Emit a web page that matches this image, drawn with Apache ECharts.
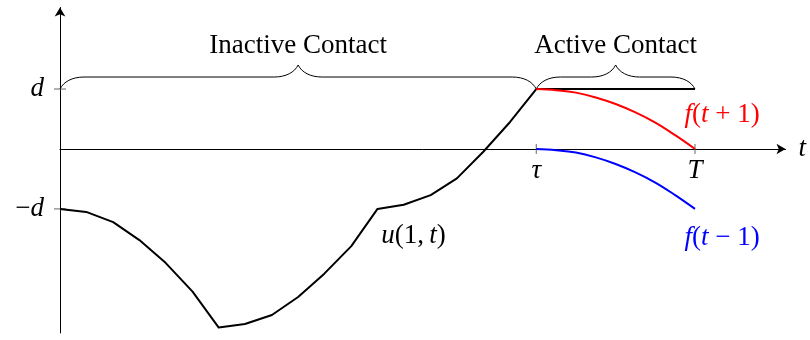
<!DOCTYPE html>
<html><head><meta charset="utf-8">
<script src="https://cdn.jsdelivr.net/npm/echarts@6/dist/echarts.min.js"></script>
<style>html,body{margin:0;padding:0;background:#fff}#c{width:810px;height:340px}</style>
</head><body><div id="c"></div>
<script>
// ---- data (t in units where tau = 6, T = 8; values in units of d) ----
const uTimes = [0, 0.33, 0.67, 1, 1.33, 1.67, 2, 2.33, 2.67, 3, 3.33, 3.67, 4, 4.33, 4.67, 5, 5.33, 5.67, 6];
const uValues = [-1.0, -1.05, -1.22, -1.52, -1.90, -2.38, -2.98, -2.92, -2.77, -2.47, -2.08, -1.62, -1.0, -0.93, -0.77, -0.49, -0.05, 0.45, 1.0];
const fTimes = [6, 6.25, 6.5, 6.75, 7, 7.25, 7.5, 7.75, 8];
const fPlusValues = [1.0, 0.98, 0.94, 0.86, 0.75, 0.61, 0.44, 0.23, 0.0];
const fMinusValues = [0, -0.02, -0.06, -0.14, -0.25, -0.39, -0.56, -0.77, -1.0];
const contactTimes = [6, 8];
const contactValues = [1, 1];
const braceStarts = [0, 6];
const braceEnds = [6, 8];
const braceLevel = 1;
const braceLabels = ['Inactive Contact', 'Active Contact'];
const xTickValues = [6, 8];
const xTickLabels = ['{i|τ}', '{i|T}'];
const yTickValues = [1, -1];
const yTickLabels = ['{i|d}', '{n|−}{i|d}'];
const axisName = 't';
const uLabel = '{i|u}{n|(1,\u2009}{i|t}{n|)}';
const fPlusLabel = '{i|f}{n|(}{i|t}{n| + 1)}';
const fMinusLabel = '{i|f}{n|(}{i|t}{n| − 1)}';

// ---- styling ----
const FONT = 'Liberation Serif';
const FS = 27;
function rich(color) {
  return {
    i: { fontFamily: FONT, fontSize: FS, fontStyle: 'italic', color: color },
    n: { fontFamily: FONT, fontSize: FS, color: color }
  };
}
const pairs = (xs, ys) => xs.map((x, i) => [x, ys[i]]);

const chart = echarts.init(document.getElementById('c'), null, { renderer: 'canvas' });

const option = {
  animation: false,
  backgroundColor: '#fff',
  grid: { left: 60, top: 7.5, width: 725.5, height: 325.5, containLabel: false, outerBoundsMode: 'none' },
  xAxis: {
    type: 'value', min: 0, max: 9.14,
    name: axisName, nameLocation: 'end', nameGap: 13,
    nameTextStyle: { fontFamily: FONT, fontSize: FS, fontStyle: 'italic', color: '#000' },
    axisLine: { show: true, onZero: true, symbol: ['none', 'arrow'], symbolSize: [8, 9],
      lineStyle: { color: '#000', width: 1 } },
    axisTick: { show: false },
    splitLine: { show: false },
    axisLabel: { show: false }
  },
  yAxis: {
    type: 'value', min: -3.07, max: 2.36,
    axisLine: { show: true, onZero: true, symbol: ['none', 'arrow'], symbolSize: [8, 9],
      lineStyle: { color: '#000', width: 1 } },
    axisTick: { show: false },
    splitLine: { show: false },
    axisLabel: {
      show: true, customValues: yTickValues, margin: 16,
      formatter: v => yTickLabels[yTickValues.indexOf(v)] || '',
      rich: rich('#000')
    }
  },
  series: [
    {
      type: 'custom', name: 'ticks-x', silent: true, clip: false, z: 2,
      data: xTickValues.map(v => [v, 0]),
      renderItem: (params, api) => {
        const p = api.coord([api.value(0), api.value(1)]);
        return {
          type: 'group', children: [
            { type: 'line', shape: { x1: p[0], y1: p[1] - 5, x2: p[0], y2: p[1] + 5 },
              style: { stroke: '#666', lineWidth: 1 } },
            { type: 'text', x: p[0], y: p[1] + 22,
              style: { text: xTickLabels[params.dataIndex], rich: rich('#000'),
                align: 'center', verticalAlign: 'middle' } }
          ]
        };
      }
    },
    {
      type: 'custom', name: 'ticks-y', silent: true, clip: false, z: 2,
      data: yTickValues.map(v => [0, v]),
      renderItem: (params, api) => {
        const p = api.coord([api.value(0), api.value(1)]);
        return { type: 'line', shape: { x1: p[0] - 6, y1: p[1], x2: p[0] + 6, y2: p[1] },
          style: { stroke: '#666', lineWidth: 1 } };
      }
    },
    {
      type: 'custom', name: 'braces', silent: true, clip: false, z: 2,
      data: braceStarts.map((s, i) => [s, braceEnds[i], braceLevel]),
      encode: { x: [0, 1], y: 2 },
      renderItem: (params, api) => {
        const a = api.coord([api.value(0), api.value(2)]);
        const b = api.coord([api.value(1), api.value(2)]);
        const A = 24, h = A / 2;
        const x0 = a[0], x1 = b[0], y0 = a[1], m = (x0 + x1) / 2;
        const d = `M${x0},${y0} C${x0 + 0.15 * A},${y0 - 0.3 * A} ${x0 + 0.5 * A},${y0 - h} ${x0 + A},${y0 - h} ` +
          `L${m - A},${y0 - h} C${m - 0.5 * A},${y0 - h} ${m - 0.15 * A},${y0 - 0.7 * A} ${m},${y0 - A} ` +
          `C${m + 0.15 * A},${y0 - 0.7 * A} ${m + 0.5 * A},${y0 - h} ${m + A},${y0 - h} ` +
          `L${x1 - A},${y0 - h} C${x1 - 0.5 * A},${y0 - h} ${x1 - 0.15 * A},${y0 - 0.3 * A} ${x1},${y0}`;
        return {
          type: 'group', children: [
            { type: 'path', shape: { pathData: d }, style: { fill: 'none', stroke: '#000', lineWidth: 1 } },
            { type: 'text', x: m, y: y0 - A - 19,
              style: { text: braceLabels[params.dataIndex],
                font: FS + 'px "' + FONT + '", serif',
                fontFamily: '"' + FONT + '", serif', fontSize: FS,
                fill: '#000', align: 'center', verticalAlign: 'middle' } }
          ]
        };
      }
    },
    {
      type: 'line', name: 'contact', data: pairs(contactTimes, contactValues),
      showSymbol: false, symbol: 'none', z: 3,
      lineStyle: { color: '#000', width: 2 }
    },
    {
      type: 'line', name: 'u(1,t)', data: pairs(uTimes, uValues),
      showSymbol: false, symbol: 'none', z: 4,
      lineStyle: { color: '#000', width: 2, join: 'round' },
      markPoint: {
        symbol: 'circle', symbolSize: 1, itemStyle: { color: 'rgba(0,0,0,0)' }, silent: true,
        data: [{ coord: [uTimes[12], uValues[12]] }],
        label: { show: true, position: 'inside', offset: [36, 27], formatter: uLabel, rich: rich('#000') }
      }
    },
    {
      type: 'line', name: 'f(t+1)', data: pairs(fTimes, fPlusValues),
      showSymbol: false, symbol: 'none', smooth: 0.4, z: 5,
      lineStyle: { color: '#ff0000', width: 2 },
      markPoint: {
        symbol: 'circle', symbolSize: 1, itemStyle: { color: 'rgba(0,0,0,0)' }, silent: true,
        data: [{ coord: [fTimes[fTimes.length - 1], fPlusValues[fPlusValues.length - 1]] }],
        label: { show: true, position: 'inside', offset: [27, -34], formatter: fPlusLabel, rich: rich('#ff0000') }
      }
    },
    {
      type: 'line', name: 'f(t−1)', data: pairs(fTimes, fMinusValues),
      showSymbol: false, symbol: 'none', smooth: 0.4, z: 5,
      lineStyle: { color: '#0000ff', width: 2 },
      markPoint: {
        symbol: 'circle', symbolSize: 1, itemStyle: { color: 'rgba(0,0,0,0)' }, silent: true,
        data: [{ coord: [fTimes[fTimes.length - 1], fMinusValues[fMinusValues.length - 1]] }],
        label: { show: true, position: 'inside', offset: [27, 29], formatter: fMinusLabel, rich: rich('#0000ff') }
      }
    }
  ]
};
chart.setOption(option);
</script>
</body></html>
